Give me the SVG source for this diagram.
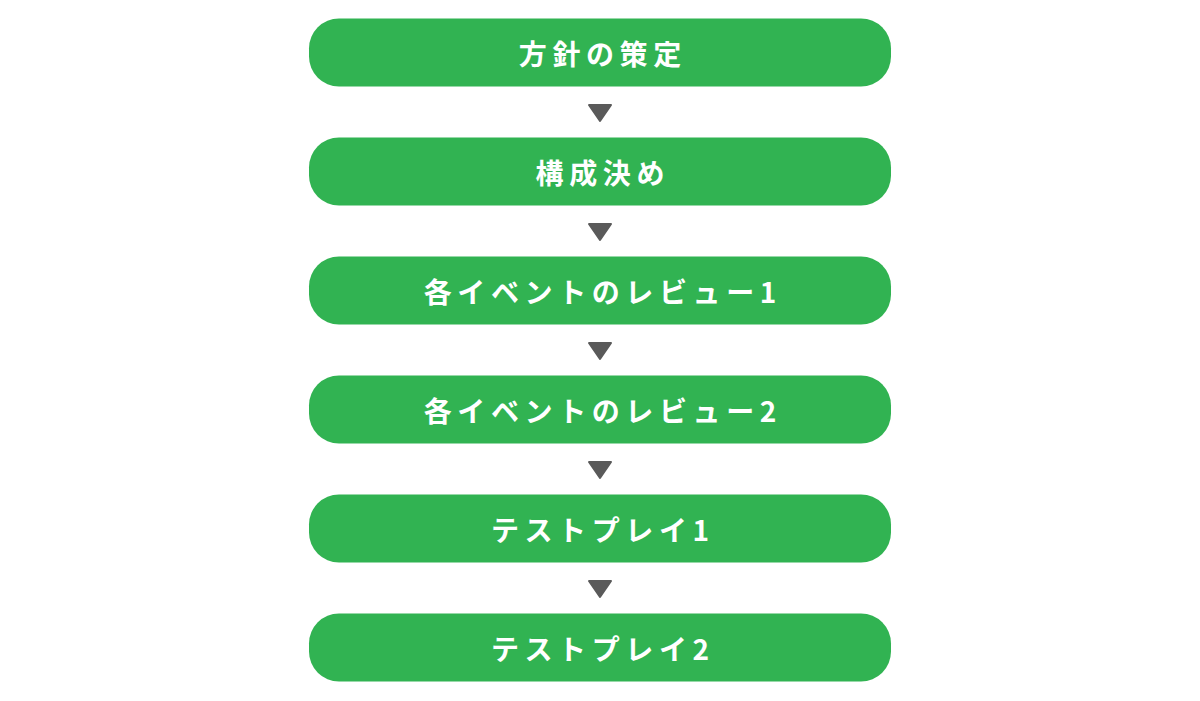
<svg xmlns="http://www.w3.org/2000/svg" width="1200" height="701" viewBox="0 0 1200 701">
  <style>
    .box { fill: #31b352; }
    .label { fill: #ffffff; font-family: "Noto Sans CJK JP", "Noto Sans", sans-serif; font-weight: bold; font-size: 28px; letter-spacing: 5.6px; text-anchor: middle; dominant-baseline: central; }
    .arrow { fill: #5a5a5a; stroke: #5a5a5a; stroke-width: 2; stroke-linejoin: round; }
  </style>
  <rect width="1200" height="701" fill="#ffffff"/>
  <g id="connectors">
    <path class="arrow" d="M589,105 L611,105 L600,121 Z"/>
    <path class="arrow" d="M589,224 L611,224 L600,240 Z"/>
    <path class="arrow" d="M589,343 L611,343 L600,359 Z"/>
    <path class="arrow" d="M589,462 L611,462 L600,478 Z"/>
    <path class="arrow" d="M589,581 L611,581 L600,597 Z"/>
  </g>
  <g id="node1">
    <rect class="box" x="309" y="18.5" width="582" height="68" rx="30" ry="30"/>
    <text class="label" x="602.8" y="52.5">方針の策定</text>
  </g>
  <g id="node2">
    <rect class="box" x="309" y="137.5" width="582" height="68" rx="30" ry="30"/>
    <text class="label" x="602.8" y="171.5">構成決め</text>
  </g>
  <g id="node3">
    <rect class="box" x="309" y="256.5" width="582" height="68" rx="30" ry="30"/>
    <text class="label" x="602.8" y="290.5">各イベントのレビュー1</text>
  </g>
  <g id="node4">
    <rect class="box" x="309" y="375.5" width="582" height="68" rx="30" ry="30"/>
    <text class="label" x="602.8" y="409.5">各イベントのレビュー2</text>
  </g>
  <g id="node5">
    <rect class="box" x="309" y="494.5" width="582" height="68" rx="30" ry="30"/>
    <text class="label" x="602.8" y="528.5">テストプレイ1</text>
  </g>
  <g id="node6">
    <rect class="box" x="309" y="613.5" width="582" height="68" rx="30" ry="30"/>
    <text class="label" x="602.8" y="647.5">テストプレイ2</text>
  </g>
</svg>
